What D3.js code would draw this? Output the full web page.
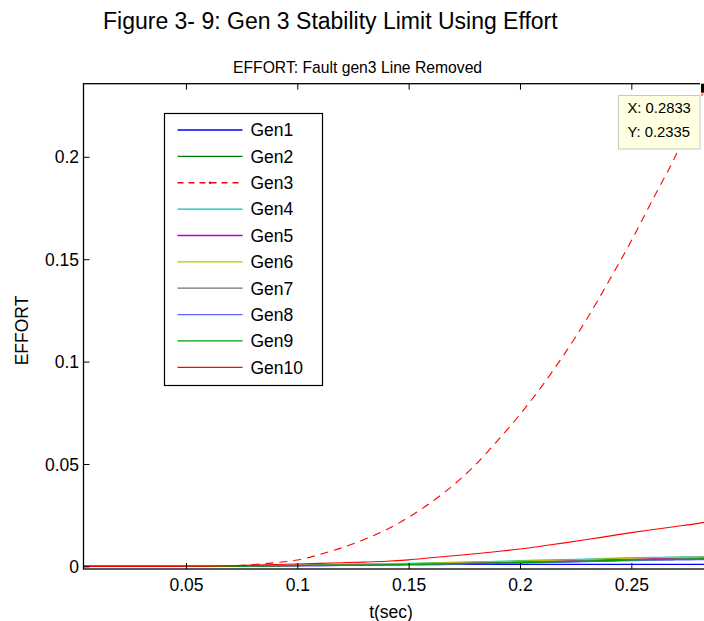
<!DOCTYPE html>
<html>
<head>
<meta charset="utf-8">
<script src="https://cdn.jsdelivr.net/npm/d3@7"></script>
<style>
  html, body { margin: 0; padding: 0; background: #fff; }
  svg { display: block; font-family: "Liberation Sans", Arial, sans-serif; }
</style>
</head>
<body>
<svg id="chart" width="704" height="621"></svg>
<script>
// Time samples (s)
const time = [0.004, 0.02, 0.04, 0.06, 0.07, 0.08, 0.09, 0.10, 0.11, 0.12, 0.13, 0.14, 0.15, 0.16,
              0.17, 0.18, 0.19, 0.20, 0.21, 0.22, 0.23, 0.24, 0.25, 0.26, 0.27, 0.28, 0.2833];

// Effort per generator
const gen1  = [0, 0, 0, 0, 0, 0.0001, 0.0002, 0.0003, 0.0004, 0.0005, 0.0006, 0.0007, 0.0008, 0.0008,
               0.0009, 0.0009, 0.0010, 0.0010, 0.0010, 0.0010, 0.0010, 0.0010, 0.0010, 0.0010, 0.0010, 0.0010, 0.0010];
const gen2  = [0, 0, 0, 0, 0, 0.0001, 0.0003, 0.0005, 0.0006, 0.0007, 0.0008, 0.0009, 0.0010, 0.0012,
               0.0013, 0.0015, 0.0016, 0.0018, 0.0020, 0.0022, 0.0025, 0.0027, 0.0030, 0.0032, 0.0034, 0.0036, 0.0037];
const gen3  = [0, 0, 0, 0, 0.0003, 0.0009, 0.0018, 0.0031, 0.0058, 0.0091, 0.0131, 0.0179, 0.0240, 0.0312,
               0.0396, 0.0496, 0.0615, 0.0742, 0.0883, 0.1038, 0.1208, 0.1395, 0.1590, 0.1800, 0.2008, 0.2262, 0.2335];
const gen4  = [0, 0, 0, 0, 0, 0.0001, 0.0003, 0.0006, 0.0008, 0.0010, 0.0012, 0.0013, 0.0015, 0.0017,
               0.0020, 0.0023, 0.0025, 0.0028, 0.0031, 0.0033, 0.0036, 0.0039, 0.0042, 0.0044, 0.0046, 0.0047, 0.0047];
const gen5  = [0, 0, 0, 0, 0, 0.0001, 0.0002, 0.0004, 0.0005, 0.0006, 0.0008, 0.0009, 0.0011, 0.0013,
               0.0015, 0.0017, 0.0020, 0.0022, 0.0025, 0.0028, 0.0031, 0.0033, 0.0036, 0.0038, 0.0040, 0.0042, 0.0043];
const gen6  = [0, 0, 0, 0, 0, 0.0001, 0.0003, 0.0005, 0.0007, 0.0009, 0.0011, 0.0012, 0.0014, 0.0016,
               0.0019, 0.0021, 0.0023, 0.0026, 0.0029, 0.0031, 0.0034, 0.0037, 0.0040, 0.0042, 0.0044, 0.0045, 0.0046];
const gen7  = [0, 0, 0, 0, 0, 0.0001, 0.0002, 0.0004, 0.0005, 0.0006, 0.0007, 0.0008, 0.0010, 0.0012,
               0.0014, 0.0016, 0.0018, 0.0020, 0.0022, 0.0025, 0.0027, 0.0030, 0.0032, 0.0034, 0.0036, 0.0038, 0.0039];
const gen8  = [0, 0, 0, 0, 0, 0.0001, 0.0002, 0.0003, 0.0004, 0.0005, 0.0006, 0.0007, 0.0008, 0.0009,
               0.0011, 0.0013, 0.0014, 0.0016, 0.0018, 0.0020, 0.0023, 0.0025, 0.0028, 0.0030, 0.0031, 0.0033, 0.0033];
const gen9  = [0, 0, 0, 0, 0, 0.0001, 0.0002, 0.0004, 0.0005, 0.0006, 0.0007, 0.0008, 0.0009, 0.0011,
               0.0013, 0.0015, 0.0017, 0.0019, 0.0021, 0.0023, 0.0026, 0.0028, 0.0031, 0.0033, 0.0035, 0.0036, 0.0037];
const gen10 = [0, 0, 0, 0.0001, 0.0003, 0.0006, 0.0009, 0.0012, 0.0015, 0.0018, 0.0021, 0.0025, 0.0032, 0.0042,
               0.0052, 0.0062, 0.0073, 0.0085, 0.0100, 0.0115, 0.0131, 0.0148, 0.0165, 0.0180, 0.0195, 0.0210, 0.0216];

const seriesNames  = ["Gen1", "Gen2", "Gen3", "Gen4", "Gen5", "Gen6", "Gen7", "Gen8", "Gen9", "Gen10"];
const seriesValues = [gen1, gen2, gen3, gen4, gen5, gen6, gen7, gen8, gen9, gen10];

// Axis ticks
const xTicks = [0.05, 0.1, 0.15, 0.2, 0.25];
const xTickLabels = ["0.05", "0.1", "0.15", "0.2", "0.25"];
const yTicks = [0, 0.05, 0.1, 0.15, 0.2];
const yTickLabels = ["0", "0.05", "0.1", "0.15", "0.2"];

// Data cursor
const tipX = 0.2833;
const tipY = 0.2335;

// Line styling
const lineColors = ["#0000ff", "#008000", "#ff0000", "#00bfbf", "#bf00bf", "#bfbf00", "#707070", "#6464ff", "#00a000", "#ff0000"];
const lineDash   = [null, null, "8,6", null, null, null, null, null, null, null];

const svg = d3.select("#chart");
const FONT = 17.5;

const plotLeft = 83.5, plotRight = 705.5, plotTop = 83.7, plotBottom = 569;
const x = d3.scaleLinear().domain([0.004, 0.2833]).range([plotLeft, plotRight]);
const y = d3.scaleLinear().domain([-0.00127, 0.2357]).range([plotBottom, plotTop]);

svg.append("rect").attr("width", 704).attr("height", 621).attr("fill", "#fff");

// Titles
svg.append("text").attr("x", 103).attr("y", 29)
  .attr("font-size", 23).attr("fill", "#000")
  .text("Figure 3- 9: Gen 3 Stability Limit Using Effort");
svg.append("text").attr("x", 233).attr("y", 73)
  .attr("font-size", 15.7).attr("fill", "#000")
  .text("EFFORT: Fault gen3 Line Removed");

// Plot area
svg.append("defs").append("clipPath").attr("id", "plotClip")
  .append("rect").attr("x", plotLeft).attr("y", plotTop)
  .attr("width", plotRight - plotLeft).attr("height", plotBottom - plotTop);

const line = d3.line()
  .x((d, i) => x(time[i]))
  .y(d => y(d))
  .curve(d3.curveMonotoneX);

const plot = svg.append("g").attr("clip-path", "url(#plotClip)");
seriesValues.forEach((vals, i) => {
  plot.append("path")
    .attr("d", line(vals))
    .attr("fill", "none")
    .attr("stroke", lineColors[i])
    .attr("stroke-width", 1.1)
    .attr("stroke-dasharray", lineDash[i]);
});

// Axes with inward ticks
const xAxis = svg.append("g").attr("transform", `translate(0,${plotBottom})`)
  .call(d3.axisBottom(x).tickValues(xTicks).tickFormat((d, i) => xTickLabels[i])
    .tickSizeInner(-6).tickSizeOuter(0).tickPadding(10));
const xAxisTop = svg.append("g").attr("transform", `translate(0,${plotTop})`)
  .call(d3.axisTop(x).tickValues(xTicks).tickFormat("").tickSizeInner(-6).tickSizeOuter(0));
const yAxis = svg.append("g").attr("transform", `translate(${plotLeft},0)`)
  .call(d3.axisLeft(y).tickValues(yTicks).tickFormat((d, i) => yTickLabels[i])
    .tickSizeInner(-6).tickSizeOuter(0).tickPadding(4.5));

[xAxis, xAxisTop, yAxis].forEach(g => {
  g.select(".domain").remove();
  g.selectAll(".tick line").attr("stroke", "#000");
  g.selectAll(".tick text").attr("font-size", FONT).attr("fill", "#000")
    .attr("font-family", "Liberation Sans, Arial, sans-serif");
});
yAxis.selectAll(".tick text").attr("dy", "0.35em");

// Axes box
svg.append("rect")
  .attr("x", plotLeft).attr("y", plotTop)
  .attr("width", plotRight - plotLeft).attr("height", plotBottom - plotTop)
  .attr("fill", "none").attr("stroke", "#000").attr("stroke-width", 1.3);

// Axis labels
svg.append("text").attr("x", 391).attr("y", 618).attr("text-anchor", "middle")
  .attr("font-size", FONT).attr("fill", "#000").text("t(sec)");
svg.append("text").attr("transform", "translate(27.5,330.5) rotate(-90)").attr("text-anchor", "middle")
  .attr("font-size", FONT).attr("fill", "#000").text("EFFORT");

// Legend
const lg = svg.append("g");
lg.append("rect").attr("x", 164.5).attr("y", 113.5).attr("width", 158).attr("height", 272)
  .attr("fill", "#fff").attr("stroke", "#000").attr("stroke-width", 1.2);
const rowY = i => 130 + i * 26.37;
seriesNames.forEach((name, i) => {
  lg.append("line").attr("x1", 177.5).attr("x2", 242.5).attr("y1", rowY(i)).attr("y2", rowY(i))
    .attr("stroke", lineColors[i]).attr("stroke-width", 1.3)
    .attr("stroke-dasharray", lineDash[i] ? "6,5" : null);
  if (lineDash[i]) {
    lg.append("circle").attr("cx", 210).attr("cy", rowY(i)).attr("r", 1.3).attr("fill", lineColors[i]);
  }
  lg.append("text").attr("x", 250.5).attr("y", rowY(i) + 6.3)
    .attr("font-size", 17.5).attr("fill", "#000").text(name);
});

// Data cursor marker and readout
svg.append("rect")
  .attr("x", x(tipX) - 5).attr("y", y(tipY) - 5).attr("width", 10).attr("height", 10)
  .attr("fill", "#000").attr("stroke", "#ffffe1").attr("stroke-width", 1);
const tip = svg.append("g");
tip.append("rect").attr("x", 618.5).attr("y", 95.5).attr("width", 81.5).attr("height", 53.5)
  .attr("fill", "#ffffe1").attr("stroke", "#c8c8c0").attr("stroke-width", 1);
tip.append("text").attr("x", 627.5).attr("y", 112.8).attr("font-size", 14.8).attr("fill", "#000")
  .text(`X: ${tipX.toFixed(4)}`);
tip.append("text").attr("x", 627.5).attr("y", 136.5).attr("font-size", 14.8).attr("fill", "#000")
  .text(`Y: ${tipY.toFixed(4)}`);
</script>
</body>
</html>
